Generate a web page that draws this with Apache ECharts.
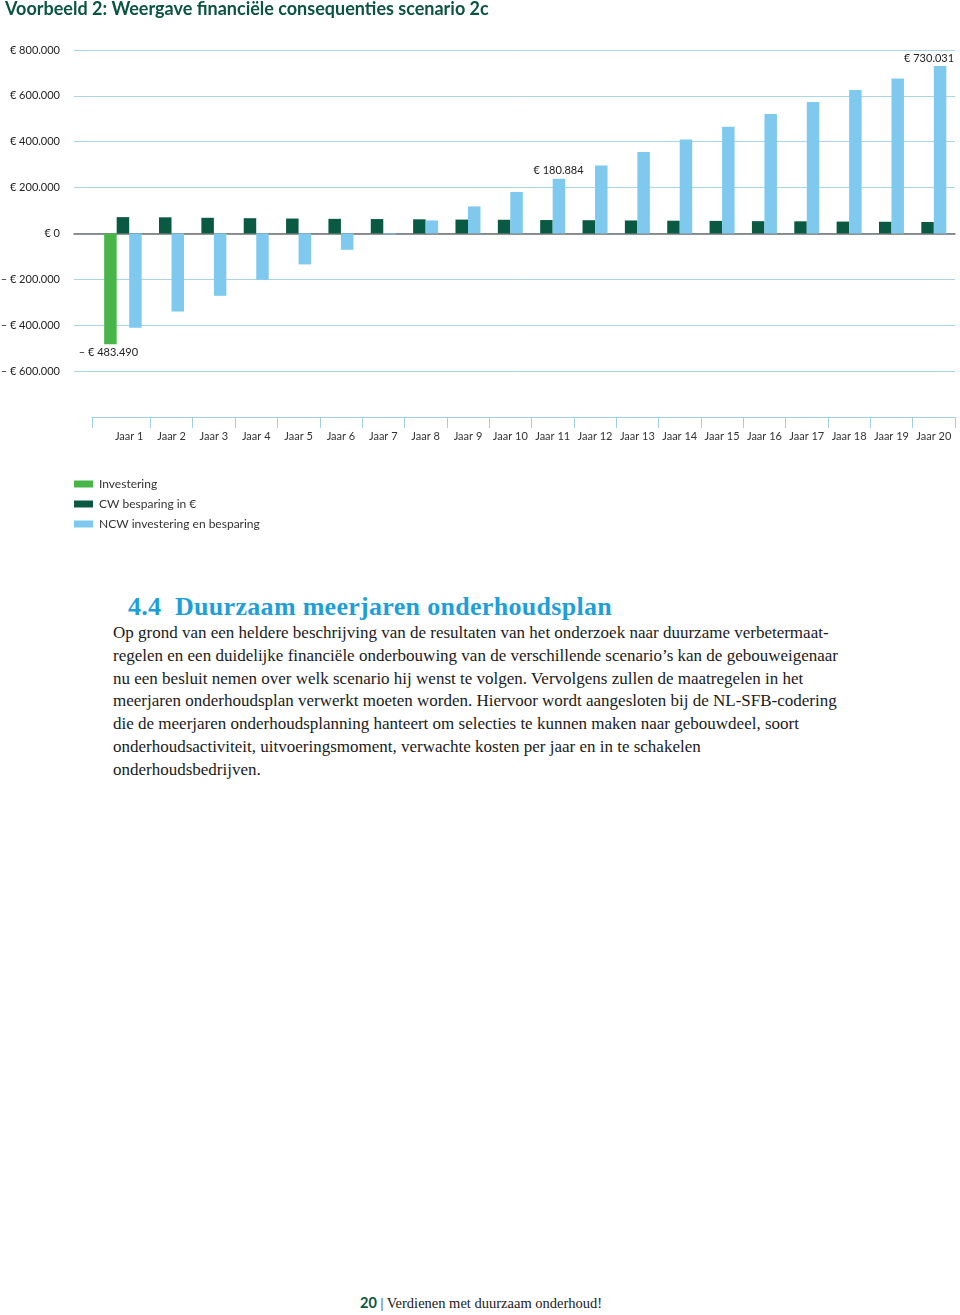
<!DOCTYPE html>
<html>
<head>
<meta charset="utf-8">
<script src="https://cdn.jsdelivr.net/npm/echarts@6/dist/echarts.min.js"></script>
<style>
  body { margin: 0; width: 960px; height: 1315px; background: #fff; position: relative; overflow: hidden; }
  #chart { position: absolute; left: 0; top: 0; width: 960px; height: 560px; }
  .kop { position: absolute; left: 128px; top: 590px; font-family: "Liberation Serif", serif; font-weight: bold;
         font-size: 26px; letter-spacing: 0.3px; color: #1e9fd8; white-space: nowrap; line-height: 34px; }
  .tekst { position: absolute; left: 113px; top: 622px; font-family: "Liberation Serif", serif; font-size: 17px;
           line-height: 22.8px; color: #1a1a1a; white-space: nowrap; }
  .voet { position: absolute; left: 360px; top: 1294px; font-family: "Liberation Serif", serif; font-size: 14.5px;
          color: #1a1a1a; white-space: nowrap; }
  .voet b { font-family: Lato, sans-serif; color: #0b5441; }
</style>
</head>
<body>
<div id="chart"></div>
<div class="kop">4.4&nbsp; Duurzaam meerjaren onderhoudsplan</div>
<div class="tekst">
Op grond van een heldere beschrijving van de resultaten van het onderzoek naar duurzame verbetermaat-<br>
regelen en een duidelijke financiële onderbouwing van de verschillende scenario’s kan de gebouweigenaar<br>
nu een besluit nemen over welk scenario hij wenst te volgen. Vervolgens zullen de maatregelen in het<br>
meerjaren onderhoudsplan verwerkt moeten worden. Hiervoor wordt aangesloten bij de NL-SFB-codering<br>
die de meerjaren onderhoudsplanning hanteert om selecties te kunnen maken naar gebouwdeel, soort<br>
onderhoudsactiviteit, uitvoeringsmoment, verwachte kosten per jaar en in te schakelen<br>
onderhoudsbedrijven.
</div>
<div class="voet"><b>20</b> | Verdienen met duurzaam onderhoud!</div>

<script>
const years = ['Jaar 1', 'Jaar 2', 'Jaar 3', 'Jaar 4', 'Jaar 5', 'Jaar 6', 'Jaar 7', 'Jaar 8', 'Jaar 9', 'Jaar 10',
  'Jaar 11', 'Jaar 12', 'Jaar 13', 'Jaar 14', 'Jaar 15', 'Jaar 16', 'Jaar 17', 'Jaar 18', 'Jaar 19', 'Jaar 20']
const investering = [-483490, null, null, null, null, null, null, null, null, null,
  null, null, null, null, null, null, null, null, null, null]
const cwBesparing = [71100, 70300, 68200, 66400, 64900, 63600, 62700, 61500, 60400, 59600,
  58400, 57700, 56600, 55500, 54700, 53600, 52800, 51700, 50900, 49800]
const ncwBesparing = [-411700, -340200, -272100, -202300, -135200, -71500, -4000, 56700, 117800, 180884,
  238200, 296600, 354600, 410000, 465000, 520400, 572700, 625100, 676100, 730031]
const yMin = -600000
const yMax = 800000
const yStep = 200000

function eur(v) {
  const s = Math.abs(v).toString().replace(/\B(?=(\d{3})+(?!\d))/g, '.')
  return (v < 0 ? '– ' : '') + '€ ' + s
}

const chart = echarts.init(document.getElementById('chart'))
const font = 'Lato, sans-serif'
const gridColor = '#a9d5e8'
const tickColor = '#a0cfe4'

const option = {
  animation: false,
  title: {
    text: 'Voorbeeld 2: Weergave financiële consequenties scenario 2c',
    left: 5,
    top: 0,
    padding: 0,
    textStyle: { fontFamily: font, fontWeight: 'bold', fontSize: 18, color: '#0b5441' }
  },
  legend: {
    orient: 'vertical',
    left: 74,
    top: 478,
    padding: 0,
    itemWidth: 19,
    itemHeight: 7,
    itemGap: 8,
    icon: 'rect',
    data: ['Investering', 'CW besparing in €', 'NCW investering en besparing'],
    textStyle: { fontFamily: font, fontSize: 12, color: '#333', padding: [0, 0, 0, 1] }
  },
  grid: [
    { left: 108, right: 5, top: 50, height: 321, outerBoundsMode: 'none' },
    { left: 74, right: 5, top: 50, height: 321, outerBoundsMode: 'none' },
    // alleen voor het verlengde stuk van de jarenbalk
    { left: 92, right: 5, top: 50, height: 321, outerBoundsMode: 'none' }
  ],
  xAxis: [
    {
      type: 'category',
      gridIndex: 0,
      data: years,
      offset: 46,
      axisLine: { onZero: false, lineStyle: { color: tickColor, width: 1 } },
      axisTick: { show: true, length: 11, interval: (i) => i > 0, lineStyle: { color: tickColor, width: 1 } },
      axisLabel: { interval: 0, margin: 14, fontFamily: font, fontSize: 11, color: '#333' }
    },
    { type: 'category', gridIndex: 0, data: years, show: false },
    {
      type: 'value',
      gridIndex: 1,
      min: 0,
      max: 1,
      axisLine: { show: true, onZero: true, lineStyle: { color: '#707070', width: 1.5 } },
      axisTick: { show: false },
      axisLabel: { show: false },
      splitLine: { show: false }
    },
    {
      type: 'category',
      gridIndex: 2,
      data: [''],
      offset: 46,
      axisLine: { onZero: false, lineStyle: { color: tickColor, width: 1 } },
      axisTick: { show: true, length: 11, interval: 0, lineStyle: { color: tickColor, width: 1 } },
      axisLabel: { show: false }
    }
  ],
  yAxis: [
    { type: 'value', gridIndex: 0, min: yMin, max: yMax, interval: yStep, show: false },
    {
      type: 'value',
      gridIndex: 1,
      min: yMin,
      max: yMax,
      interval: yStep,
      axisLine: { show: false },
      axisTick: { show: false },
      axisLabel: { margin: 14, fontFamily: font, fontSize: 11, color: '#222', formatter: eur },
      splitLine: { lineStyle: { color: gridColor, width: 1 } }
    },
    { type: 'value', gridIndex: 2, min: yMin, max: yMax, show: false }
  ],
  series: [
    {
      name: 'Investering',
      type: 'bar',
      xAxisIndex: 1,
      yAxisIndex: 0,
      clip: false,
      barWidth: 12.5,
      barGap: '200%',
      itemStyle: { color: '#48b549' },
      label: {
        show: true,
        position: 'bottom',
        distance: 3,
        offset: [-2, 0],
        formatter: p => eur(p.value),
        fontFamily: font,
        fontSize: 11,
        color: '#222'
      },
      data: investering
    },
    {
      name: 'opvulling',
      type: 'bar',
      xAxisIndex: 1,
      yAxisIndex: 0,
      barWidth: 12.5,
      data: investering.map(() => null)
    },
    {
      name: 'CW besparing in €',
      type: 'bar',
      xAxisIndex: 0,
      yAxisIndex: 0,
      barWidth: 12.5,
      barGap: 0,
      itemStyle: { color: '#0a5a43' },
      data: cwBesparing
    },
    {
      name: 'NCW investering en besparing',
      type: 'bar',
      xAxisIndex: 0,
      yAxisIndex: 0,
      barWidth: 12.5,
      barGap: 0,
      itemStyle: { color: '#80c9ee' },
      data: ncwBesparing.map((v, i) => {
        if (i === 9) return { value: v, label: { show: true, position: 'top', offset: [42, -11] } }
        if (i === 19) return { value: v, label: { show: true, position: 'top', offset: [-11, 3] } }
        return v
      }),
      label: { show: false, formatter: p => eur(p.value), fontFamily: font, fontSize: 11, color: '#222' }
    }
  ]
}

chart.setOption(option)
</script>
</body>
</html>
